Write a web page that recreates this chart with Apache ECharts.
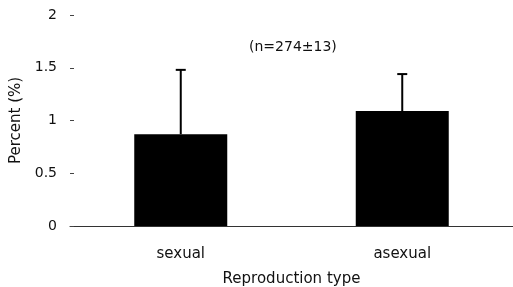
<!DOCTYPE html>
<html>
<head>
<meta charset="utf-8">
<script src="https://cdn.jsdelivr.net/npm/echarts@6/dist/echarts.min.js"></script>
<style>
  html, body { margin: 0; padding: 0; background: #fff; }
  #main { width: 513px; height: 287px; }
</style>
</head>
<body>
<div id="main"></div>
<script>
// 数据
var categories = ['sexual', 'asexual'];
var meanValues = [0.87, 1.09];
var errorTops = [1.48, 1.44]; // 误差线顶端
var yTicks = [0, 0.5, 1, 1.5, 2];

var font = 'DejaVu Sans, sans-serif';

var errorData = categories.map(function (c, i) {
    return [i, meanValues[i], errorTops[i]];
});

var myChart = echarts.init(document.getElementById('main'));

myChart.setOption({
    animation: false,
    backgroundColor: '#fff',
    grid: { left: 70, right: 0, top: 15, bottom: 61, outerBoundsMode: 'none', containLabel: false },
    graphic: [{
        type: 'text',
        left: 249,
        top: 40,
        style: { text: '(n=274\u00b113)', font: '14px ' + font, fill: '#111' }
    }],
    xAxis: {
        type: 'category',
        data: categories,
        name: 'Reproduction type',
        nameLocation: 'middle',
        nameGap: 46,
        nameTextStyle: { fontFamily: font, fontSize: 15, color: '#111' },
        axisLine: { lineStyle: { color: '#333', width: 1 } },
        axisTick: { show: false },
        axisLabel: { fontFamily: font, fontSize: 15, color: '#111', margin: 21 }
    },
    yAxis: {
        type: 'value',
        min: yTicks[0],
        max: yTicks[yTicks.length - 1],
        interval: 0.5,
        name: 'Percent (%)',
        nameLocation: 'middle',
        nameGap: 46,
        nameTextStyle: { fontFamily: font, fontSize: 15, color: '#111' },
        axisLine: { show: false },
        axisTick: { show: true, length: 4, inside: true, lineStyle: { color: '#444' } },
        splitLine: { show: false },
        axisLabel: { fontFamily: font, fontSize: 14, color: '#111', margin: 13 }
    },
    series: [{
        type: 'bar',
        data: meanValues,
        barWidth: 93,
        itemStyle: { color: '#000' },
        z: 2
    }, {
        type: 'custom',
        data: errorData,
        z: 3,
        renderItem: function (params, api) {
            var base = api.coord([api.value(0), api.value(1)]);
            var top = api.coord([api.value(0), api.value(2)]);
            var half = 5;
            return {
                type: 'group',
                children: [{
                    type: 'line',
                    shape: { x1: base[0], y1: base[1], x2: top[0], y2: top[1] },
                    style: { stroke: '#000', lineWidth: 2 }
                }, {
                    type: 'line',
                    shape: { x1: top[0] - half, y1: top[1], x2: top[0] + half, y2: top[1] },
                    style: { stroke: '#000', lineWidth: 2 }
                }]
            };
        }
    }]
});
</script>
</body>
</html>
